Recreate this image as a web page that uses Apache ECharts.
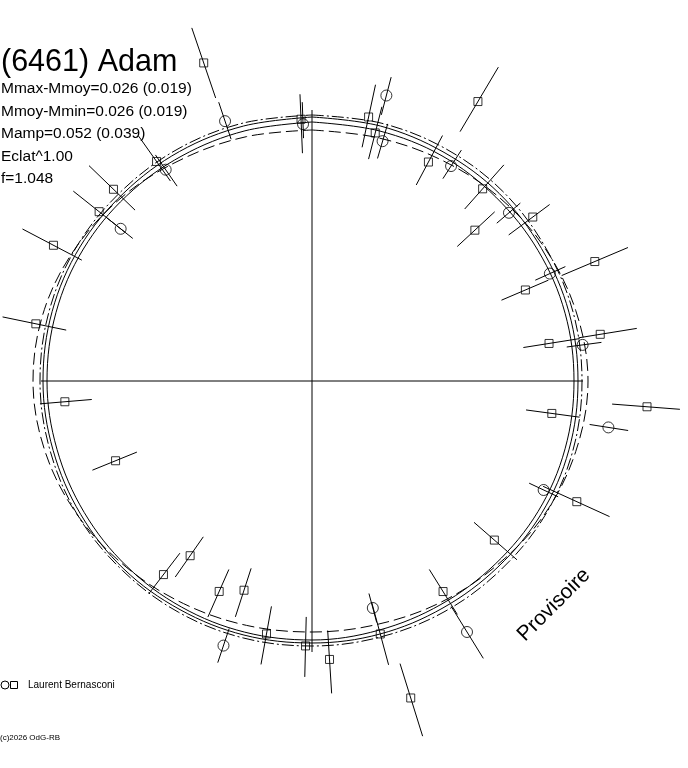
<!DOCTYPE html>
<html>
<head>
<meta charset="utf-8">
<script src="https://cdn.jsdelivr.net/npm/echarts@6/dist/echarts.min.js"></script>
<style>html,body{margin:0;padding:0;background:#fff}#c{width:688px;height:768px}</style>
</head>
<body>
<div id="c"></div>
<script>
// ---- data (radius in plot units, phase in degrees clockwise from top) ----
const squarePhase = [341.2, 324.7, 314.0, 308.5, 297.7, 281.7, 265.2, 247.9, 214.9, 217.5, 203.8, 198.0, 190.2, 181.4, 176.4, 164.9, 162.7, 148.1, 131.1, 114.5, 97.7, 94.4, 81.0, 80.8, 67.1, 66.9, 53.4, 47.2, 41.6, 28.0, 30.7, 12.1, 14.3, 357.6];
const squareRadius = [336, 269, 276, 272, 292, 282, 248, 212, 213, 244, 230, 220, 257, 265, 279, 262, 332, 248, 242, 291, 242, 336, 240, 292, 307, 232, 275, 222, 257, 248, 325, 270, 256, 262];
const squareLow = [299, 245, 246, 239, 260, 251, 221, 189, 190, 217, 206, 197, 229, 236, 250, 229, 296, 222, 215, 254, 216, 301, 214, 270, 271, 206, 245, 198, 230, 222, 290, 239, 229, 228];
const squareHigh = [373, 300, 310, 305, 327, 316, 273, 237, 239, 268, 258, 248, 288, 296, 313, 294, 372, 275, 272, 327, 270, 369, 271, 329, 343, 257, 296, 249, 289, 278, 365, 303, 283, 287];

const circlePhase = [341.5, 325.3, 308.5, 198.5, 165.0, 148.3, 115.2, 98.9, 82.4, 65.7, 49.5, 32.9, 14.6, 16.4, 358.0];
const circleRadius = [274, 257, 244.5, 279, 235, 295, 256, 300, 273, 261, 259, 256, 295, 250, 257];
const circleLow = [255, 237, 229, 261, 220, 265, 240, 281, 257, 245, 243, 241, 275, 232, 243];
const circleHigh = [294, 275, 262, 297, 250, 326, 272, 320, 292, 278, 274, 275, 314, 268, 279];

const curvePhase = [0, 15, 30, 45, 60, 75, 90, 105, 120, 135, 150, 165, 180, 195, 210, 225, 240, 255, 270, 285, 300, 315, 330, 345, 360];
const curveDashed = [251, 252, 256, 262, 268, 273, 276, 273, 268, 261, 256, 252, 251, 253, 257, 263, 270, 276, 279, 277, 271, 264, 257, 253, 251];
const curveSolidInner = [259, 259, 260, 260, 261, 262, 262, 262, 261, 259, 258, 258, 259, 260, 261, 262, 263, 264, 265, 265, 264, 262, 260, 259, 259];
const curveSolidOuter = [264, 264, 264, 265, 265, 266, 266, 266, 265, 263, 262, 262, 262, 263, 264, 266, 267, 268, 269, 269, 268, 266, 265, 264, 264];
const curveDashDot = [266, 267, 268, 269, 269, 270, 270, 270, 269, 267, 266, 265, 265, 266, 267, 268, 270, 271, 272, 272, 271, 269, 268, 267, 266];

const crossRadius = 271;

const titleText = '(6461) Adam';
const infoLines = ['Mmax-Mmoy=0.026 (0.019)', 'Mmoy-Mmin=0.026 (0.019)', 'Mamp=0.052 (0.039)', 'Eclat^1.00', 'f=1.048'];
const observer = 'Laurent Bernasconi';
const copyright = '(c)2026 OdG-RB';
const stamp = 'Provisoire';

// ---- build ----
const toPairs = (rs, ph) => rs.map((r, i) => [r, ph[i]]);
const barData = (ph, lo, hi) => ph.map((p, i) => [p, lo[i], hi[i]]);

function barItem(params, api) {
  const a = api.value(0);
  const p1 = api.coord([api.value(1), a]);
  const p2 = api.coord([api.value(2), a]);
  return { type: 'line', shape: { x1: p1[0], y1: p1[1], x2: p2[0], y2: p2[1] }, style: { stroke: '#000', lineWidth: 1 } };
}

const curveSeries = (data, type) => ({
  type: 'line', coordinateSystem: 'polar', data: toPairs(data, curvePhase),
  smooth: 0.35, symbol: 'none', silent: true,
  lineStyle: { color: '#000', width: 1, type: type }
});

const chart = echarts.init(document.getElementById('c'), null, { renderer: 'canvas' });
const font = '"Liberation Sans", Arial, sans-serif';
chart.setOption({
  animation: false,
  backgroundColor: '#fff',
  polar: { center: [312, 381], radius: 400 },
  radiusAxis: { type: 'value', min: 0, max: 400, show: false },
  angleAxis: { type: 'value', min: 0, max: 360, startAngle: 90, clockwise: true, show: false },
  series: [
    { type: 'line', coordinateSystem: 'polar', symbol: 'none', silent: true,
      data: [[crossRadius, 0], [0, 0], [crossRadius, 180]], lineStyle: { color: '#000', width: 1 } },
    { type: 'line', coordinateSystem: 'polar', symbol: 'none', silent: true,
      data: [[crossRadius, 90], [0, 0], [crossRadius, 270]], lineStyle: { color: '#000', width: 1 } },
    curveSeries(curveSolidInner, 'solid'),
    curveSeries(curveSolidOuter, 'solid'),
    curveSeries(curveDashed, [12, 5]),
    curveSeries(curveDashDot, [12, 3, 2, 3]),
    { type: 'custom', coordinateSystem: 'polar', renderItem: barItem, silent: true,
      encode: { angle: 0, radius: [1, 2] }, data: barData(squarePhase, squareLow, squareHigh) },
    { type: 'custom', coordinateSystem: 'polar', renderItem: barItem, silent: true,
      encode: { angle: 0, radius: [1, 2] }, data: barData(circlePhase, circleLow, circleHigh) },
    { type: 'scatter', coordinateSystem: 'polar', symbol: 'rect', symbolSize: 8,
      itemStyle: { color: 'rgba(0,0,0,0)', borderColor: '#000', borderWidth: 1 },
      data: toPairs(squareRadius, squarePhase) },
    { type: 'scatter', coordinateSystem: 'polar', symbol: 'circle', symbolSize: 11,
      itemStyle: { color: 'rgba(0,0,0,0)', borderColor: '#000', borderWidth: 1 },
      data: toPairs(circleRadius, circlePhase) }
  ],
  graphic: [
    { type: 'text', x: 1, y: 63, style: { text: titleText, font: '30.5px ' + font, fill: '#000', verticalAlign: 'middle' } },
    ...infoLines.map((t, i) => ({ type: 'text', x: 1, y: 89 + i * 22.5,
      style: { text: t, font: '15.5px ' + font, fill: '#000', verticalAlign: 'middle' } })),
    { type: 'circle', shape: { cx: 5, cy: 685, r: 4 }, style: { fill: 'none', stroke: '#000', lineWidth: 1 } },
    { type: 'rect', shape: { x: 10.5, y: 681.5, width: 7, height: 7 }, style: { fill: 'none', stroke: '#000', lineWidth: 1 } },
    { type: 'text', x: 28, y: 685, style: { text: observer, font: '10px ' + font, fill: '#000', verticalAlign: 'middle' } },
    { type: 'text', x: 0, y: 738, style: { text: copyright, font: '8px ' + font, fill: '#000', verticalAlign: 'middle' } },
    { type: 'text', x: 554, y: 605, rotation: Math.PI / 4,
      style: { text: stamp, font: '21px ' + font, fill: '#000', align: 'center', verticalAlign: 'middle' } }
  ]
});
</script>
</body>
</html>
